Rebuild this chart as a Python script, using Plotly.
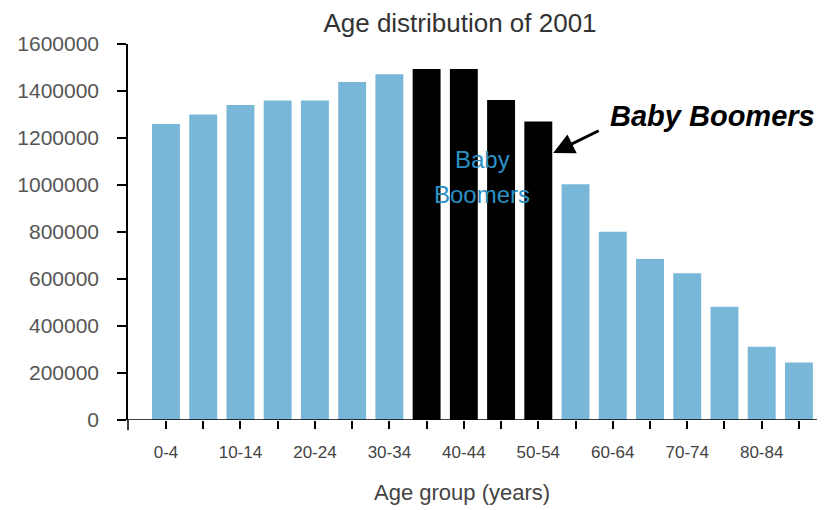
import plotly.graph_objects as go

age_groups = ["0-4", "5-9", "10-14", "15-19", "20-24", "25-29", "30-34", "35-39",
              "40-44", "45-49", "50-54", "55-59", "60-64", "65-69", "70-74", "75-79",
              "80-84", "85+"]
population = [1260000, 1300000, 1340000, 1360000, 1360000, 1438000, 1471000, 1494000,
              1494000, 1362000, 1270000, 1003000, 801000, 685000, 624000, 482000,
              312000, 245000]
boomer_groups = ["35-39", "40-44", "45-49", "50-54"]
tick_labels = [g if i % 2 == 0 else "" for i, g in enumerate(age_groups)]
y_ticks = [0, 200000, 400000, 600000, 800000, 1000000, 1200000, 1400000, 1600000]

BLUE = "#79b7d9"
colors = ["#000000" if g in boomer_groups else BLUE for g in age_groups]
FONT = "Liberation Sans, Arial, Helvetica, sans-serif"

# page body has an 8px default margin; compensate so the plot lands where the reference is
OFF = 8
W, H = 825 - OFF, 510 - OFF
L, T, B = 128 - OFF, 44 - OFF, 90

fig = go.Figure()
fig.add_trace(go.Bar(
    x=list(range(len(age_groups))),
    y=population,
    marker=dict(color=colors, line=dict(width=0)),
    hovertext=age_groups,
    showlegend=False,
))

fig.update_layout(
    width=W, height=H,
    margin=dict(l=L, r=0, t=T, b=B, autoexpand=False),
    paper_bgcolor="white", plot_bgcolor="white",
    bargap=0.25,
    font=dict(family=FONT, color="#444444"),
    title=dict(text="Age distribution of 2001", x=(460 - OFF) / W, xanchor="center",
               y=1 - (23 - OFF) / H, yanchor="middle",
               font=dict(size=26, color="#333333", family=FONT)),
    xaxis=dict(
        range=[-1.02, 17.7], automargin=False,
        tickmode="array", tickvals=list(range(len(age_groups))), ticktext=tick_labels,
        ticks="outside", ticklen=8, tickwidth=2, tickcolor="#000000",
        tickfont=dict(size=17, color="#444444"),
        ticklabelstandoff=9,
        showline=False, showgrid=False, zeroline=False,
    ),
    yaxis=dict(
        range=[0, 1600000], automargin=False,
        tickmode="array", tickvals=y_ticks, ticktext=[str(v) for v in y_ticks],
        ticks="outside", ticklen=9, tickwidth=2, tickcolor="#000000",
        tickfont=dict(size=21, color="#555555"),
        ticklabelstandoff=14,
        showline=True, linecolor="#000000", linewidth=1.5,
        showgrid=False, zeroline=False,
    ),
    shapes=[
        dict(type="line", xref="paper", yref="y", x0=-0.015, x1=1, y0=0, y1=0,
             line=dict(color="#000000", width=1.5)),
        dict(type="line", xref="paper", yref="paper", x0=0, x1=0, y0=-0.027, y1=0,
             line=dict(color="#000000", width=1.5)),
    ],
    annotations=[
        dict(text="Age group (years)", xref="paper", yref="paper",
             x=(462 - 128) / 697, y=-72 / 376, xanchor="center", yanchor="middle",
             showarrow=False, font=dict(size=22, color="#444444", family=FONT)),
        dict(text="<b><i>Baby Boomers</i></b>", xref="paper", yref="paper",
             x=(712 - 128) / 697, y=(420 - 116) / 376, xanchor="center", yanchor="middle",
             showarrow=False, font=dict(size=29, color="#000000", family=FONT)),
        dict(text="", x=10.4, y=1136000, xref="x", yref="y",
             ax=47, ay=-23, axref="pixel", ayref="pixel",
             showarrow=True, arrowhead=2, arrowsize=1.4, arrowwidth=3,
             arrowcolor="#000000"),
        dict(text="Baby", x=8.5, y=(420 - 159) * 1600000 / 376, xref="x", yref="y",
             showarrow=False, font=dict(size=24, color="#2a90c4", family=FONT)),
        dict(text="Boomers", x=8.5, y=(420 - 194) * 1600000 / 376, xref="x", yref="y",
             showarrow=False, font=dict(size=24, color="#2a90c4", family=FONT)),
    ],
)

fig.write_html("out.html")
